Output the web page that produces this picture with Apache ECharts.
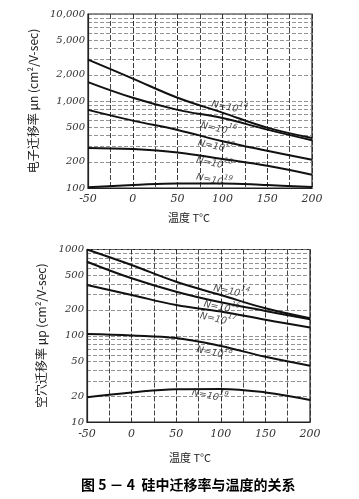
<!DOCTYPE html>
<html>
<head>
<meta charset="utf-8">
<style>html,body{margin:0;padding:0;background:#fff;}#c{width:359px;height:499px;}</style>
<script src="https://cdn.jsdelivr.net/npm/echarts@6/dist/echarts.min.js"></script>
</head>
<body>
<div id="c"></div>
<script>
// ---- data ----
var temps = [-50, 0, 50, 100, 150, 200];
var xTickLabels = [-50, 0, 50, 100, 150, 200];

// electron mobility (top)
var muN_1e14 = [2990, 1810, 1090, 736, 494, 375];
var muN_1e16 = [1650, 1090, 791, 636, 469, 354];
var muN_1e17 = [791, 595, 465, 345, 268, 211];
var muN_1e18 = [288, 280, 256, 215, 180, 142];
var muN_1e19 = [102, 108, 113, 113, 108, 103];
var topYTicks = [100, 200, 500, 1000, 2000, 5000, 10000];
var topCurveExp = ['14', '16', '17', '18', '19'];
var topLabelAt = [[108, 880], [96, 500], [93, 315], [91, 200], [91, 128]];

// hole mobility (bottom)
var muP_1e14 = [1000, 661, 423, 297, 208, 160];
var muP_1e16 = [722, 464, 324, 244, 194, 155];
var muP_1e17 = [388, 297, 227, 191, 153, 125];
var muP_1e18 = [105, 101, 94, 76, 57, 45];
var muP_1e19 = [19.4, 22, 24, 24.2, 22, 18];
var botYTicks = [10, 20, 50, 100, 200, 500, 1000];
var botCurveExp = ['14', '16', '17', '18', '19'];
var botLabelAt = [[112, 340], [101, 222], [97, 162], [93, 66], [88, 21]];

// ---- helpers ----
function gridLines(min, max) {
  var out = [];
  for (var d = min; d < max; d *= 10) {
    for (var k = 1; k < 10; k++) out.push(d * k);
  }
  out.push(max);
  return out;
}
function comma(v) { return String(v).replace(/\B(?=(\d{3})+(?!\d))/g, ','); }
function pairs(xs, ys) { return xs.map(function (x, i) { return [x, ys[i]]; }); }

var labelFont = { fontFamily: 'DejaVu Serif', fontStyle: 'italic', fontSize: 10, color: '#333' };

function xAxisCfg(gridIndex, margin) {
  return {
    type: 'value', gridIndex: gridIndex, min: -50, max: 200, interval: 50,
    axisLine: { show: true, onZero: false, lineStyle: { color: '#222', width: 1.2 } },
    axisTick: { show: false },
    axisLabel: Object.assign({ margin: margin, customValues: xTickLabels, formatter: function (v) { return String(v); } }, labelFont, { fontSize: 11 }),
    splitLine: { show: true, lineStyle: { color: '#333', width: 1, type: [5, 2] } },
    minorTick: { show: false, splitNumber: 2 },
    minorSplitLine: { show: true, lineStyle: { color: '#444', width: 1, type: [5, 2] } }
  };
}
function yAxisCfg(gridIndex, min, max, ticks, fmt, name) {
  return {
    type: 'log', logBase: 10, gridIndex: gridIndex, min: min, max: max,
    axisLine: { show: true, onZero: false, lineStyle: { color: '#222', width: 1.2 } },
    axisTick: { show: false, customValues: gridLines(min, max) },
    axisLabel: Object.assign({ margin: 3, customValues: ticks, formatter: fmt }, labelFont),
    splitLine: { show: true, lineStyle: { color: '#777', width: 0.8, type: [4, 2] } },
    name: name, nameLocation: 'middle', nameRotate: 90, nameGap: 36,
    nameTextStyle: { fontFamily: 'Noto Sans CJK SC', fontSize: 12, color: '#222' }
  };
}

function curve(exp, xi, yi, ys) {
  return {
    type: 'line', name: 'N=10^' + exp, xAxisIndex: xi, yAxisIndex: yi,
    data: pairs(temps, ys), smooth: 0.4, symbol: 'none',
    lineStyle: { color: '#111', width: 2 }, z: 5
  };
}
function labelSeries(xi, yi, exps, at) {
  return {
    type: 'scatter', xAxisIndex: xi, yAxisIndex: yi, symbolSize: 1,
    itemStyle: { color: 'rgba(0,0,0,0)' }, silent: true, z: 6,
    data: at.map(function (p, i) { return { value: p, name: exps[i] }; }),
    label: { show: true, position: 'inside', rotate: -12,
      fontFamily: 'DejaVu Sans', fontStyle: 'italic', fontSize: 9.5, color: '#222',
      rich: {
        b: { fontFamily: 'DejaVu Sans', fontStyle: 'italic', fontSize: 9.5, color: '#222', verticalAlign: 'bottom', lineHeight: 14 },
        s: { fontFamily: 'DejaVu Sans', fontStyle: 'italic', fontSize: 7, color: '#222', verticalAlign: 'top', lineHeight: 14 }
      },
      formatter: function (p) { return '{b|N=10}{s|' + p.name + '}'; } }
  };
}

var chart = echarts.init(document.getElementById('c'), null, { renderer: 'canvas' });
chart.setOption({
  backgroundColor: '#fff',
  animation: false,
  grid: [
    { left: 88, top: 14, width: 224, height: 174, show: true, borderColor: '#222', borderWidth: 1.2, backgroundColor: 'transparent' },
    { left: 87, top: 249.5, width: 223, height: 172.5, show: true, borderColor: '#222', borderWidth: 1.2, backgroundColor: 'transparent' }
  ],
  title: [
    { text: '温度 T°C', left: 163, top: 207, textStyle: { fontFamily: 'Noto Sans CJK SC', fontSize: 11, fontWeight: 'normal', color: '#222' } },
    { text: '温度 T°C', left: 164, top: 447, textStyle: { fontFamily: 'Noto Sans CJK SC', fontSize: 11, fontWeight: 'normal', color: '#222' } },
    { text: '图 5 － 4  硅中迁移率与温度的关系', left: 76, top: 473, textStyle: { fontFamily: 'Noto Sans CJK SC', fontSize: 14, fontWeight: 'bold', color: '#000' } }
  ],
  xAxis: [xAxisCfg(0, 6), xAxisCfg(1, 7)],
  yAxis: [
    yAxisCfg(0, 100, 10000, topYTicks, function (v) { return comma(Math.round(v)); }, '电子迁移率 μn (cm²/V-sec)'),
    yAxisCfg(1, 10, 1000, botYTicks, function (v) { return String(Math.round(v)); }, '空穴迁移率 μp (cm²/V-sec)')
  ],
  series: [
    curve(topCurveExp[0], 0, 0, muN_1e14),
    curve(topCurveExp[1], 0, 0, muN_1e16),
    curve(topCurveExp[2], 0, 0, muN_1e17),
    curve(topCurveExp[3], 0, 0, muN_1e18),
    curve(topCurveExp[4], 0, 0, muN_1e19),
    labelSeries(0, 0, topCurveExp, topLabelAt),
    curve(botCurveExp[0], 1, 1, muP_1e14),
    curve(botCurveExp[1], 1, 1, muP_1e16),
    curve(botCurveExp[2], 1, 1, muP_1e17),
    curve(botCurveExp[3], 1, 1, muP_1e18),
    curve(botCurveExp[4], 1, 1, muP_1e19),
    labelSeries(1, 1, botCurveExp, botLabelAt)
  ]
});
</script>
</body>
</html>
